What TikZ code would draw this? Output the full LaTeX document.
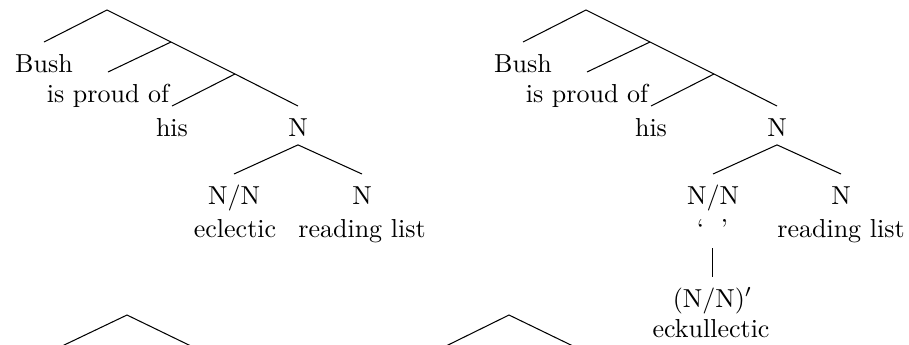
\documentclass[tikz,border=0pt]{standalone}
\begin{document}
\begin{tikzpicture}[x=0.3846pt,y=-0.3846pt,
  lbl/.style={inner sep=0pt, text height=11.35pt, text depth=3.2pt, anchor=north},
  wrd/.style={inner sep=0pt, anchor=base},
  edge/.style={line width=0.4pt}]
\useasboundingbox (0,0) rectangle (909,344);
\clip (0,0) rectangle (909,344);

% ---------- left tree ----------
\coordinate (Lr) at (107,10);
\coordinate (Lj1) at (171,42);
\coordinate (Lj2) at (235,74);
\node[lbl] (Lbush) at (44,42) {Bush};
\node[lbl] (Lproud) at (108,72) {is proud of};
\node[lbl] (Lhis) at (172,106) {his};
\node[lbl] (LN) at (298,106) {N};
\node[lbl] (LNN) at (234,174) {N/N};
\node[lbl] (LNb) at (362,174) {N};
\node[wrd] (Lecl) at (235,237) {eclectic};
\node[wrd] (Lrl) at (362,237) {reading list};
\draw[edge] (Lbush.north) -- (Lr) -- (Lj1) -- (Lj2) -- (LN.north);
\draw[edge] (Lproud.north) -- (Lj1);
\draw[edge] (Lhis.north) -- (Lj2);
\draw[edge] (LNN.north) -- (LN.south) -- (LNb.north);

% ---------- right tree ----------
\begin{scope}[shift={(479,0)}]
\coordinate (Rr) at (107,10);
\coordinate (Rj1) at (171,42);
\coordinate (Rj2) at (235,74);
\node[lbl] (Rbush) at (44,42) {Bush};
\node[lbl] (Rproud) at (108,72) {is proud of};
\node[lbl] (Rhis) at (172,106) {his};
\node[lbl] (RN) at (298,106) {N};
\node[lbl] (RNN) at (234,174) {N/N};
\node[lbl] (RNb) at (362,174) {N};
\node[lbl, anchor=base] (Rq) at (233.5,237) {‘\hspace{6.5pt}’};
\node[wrd] (Rrl) at (362,237) {reading list};
\node[lbl] (RNNp) at (233.5,277) {(N/N)$'$};
\node[wrd] (Reck) at (232,337) {eckullectic};
\draw[edge] (Rbush.north) -- (Rr) -- (Rj1) -- (Rj2) -- (RN.north);
\draw[edge] (Rproud.north) -- (Rj1);
\draw[edge] (Rhis.north) -- (Rj2);
\draw[edge] (RNN.north) -- (RN.south) -- (RNb.north);
\draw[edge, shorten <=1pt] (Rq.south) -- (RNNp.north);
\end{scope}

% ---------- bottom trees (cut off) ----------
\coordinate (B1) at (127,315);
\coordinate (B1l) at (60,347);
\coordinate (B1r) at (193,347);
\draw[edge] (B1l) -- (B1) -- (B1r);
\coordinate (B2) at (509,315);
\coordinate (B2l) at (444,347);
\coordinate (B2r) at (575,347);
\draw[edge] (B2l) -- (B2) -- (B2r);
\end{tikzpicture}
\end{document}
